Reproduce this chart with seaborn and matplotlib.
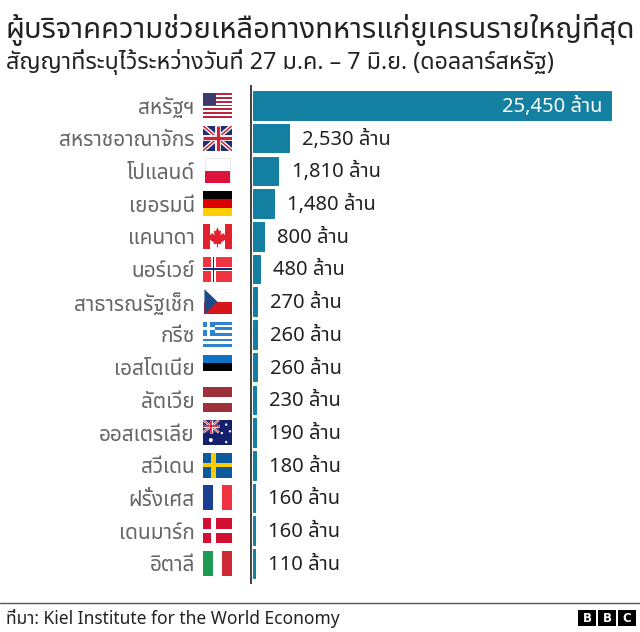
import warnings
import pandas as pd
import matplotlib
matplotlib.use("Agg")
import matplotlib.pyplot as plt
from matplotlib.patches import Rectangle, Polygon
import seaborn as sns

warnings.filterwarnings("ignore")

W, H = 640, 632
BAR_COLOR = "#1380A1"

countries = ["สหรัฐฯ", "สหราชอาณาจักร", "โปแลนด์", "เยอรมนี", "แคนาดา", "นอร์เวย์",
             "สาธารณรัฐเช็ก", "กรีซ", "เอสโตเนีย", "ลัตเวีย", "ออสเตรเลีย", "สวีเดน",
             "ฝรั่งเศส", "เดนมาร์ก", "อิตาลี"]
values = [25450, 2530, 1810, 1480, 800, 480, 270, 260, 260, 230, 190, 180, 160, 160, 110]
flags = ["us", "uk", "pl", "de", "ca", "no", "cz", "gr", "ee", "lv", "au", "se", "fr", "dk", "it"]

title = "ผู้บริจาคความช่วยเหลือทางทหารแก่ยูเครนรายใหญ่ที่สุด"
subtitle = "สัญญาที่ระบุไว้ระหว่างวันที่ 27 ม.ค. – 7 มิ.ย. (ดอลลาร์สหรัฐ)"
source = "ที่มา: Kiel Institute for the World Economy"
unit = "ล้าน"

sns.set_theme(style="white")
plt.rcParams["font.family"] = ["Noto Sans Thai", "Sarabun", "DejaVu Sans"]


def px_axes(fig, x0, y0, x1, y1):
    # axes from pixel box, y measured from the top
    return fig.add_axes([x0 / W, 1 - y1 / H, (x1 - x0) / W, (y1 - y0) / H])


def stripes(a, colors, vertical=False):
    n = len(colors)
    for i, c in enumerate(colors):
        if vertical:
            a.add_patch(Rectangle((i / n, 0), 1 / n, 1, color=c, lw=0))
        else:
            a.add_patch(Rectangle((0, 1 - (i + 1) / n), 1, 1 / n, color=c, lw=0))


def nordic(a, bg, cross, inner=None):
    a.add_patch(Rectangle((0, 0), 1, 1, color=bg, lw=0))
    a.add_patch(Rectangle((0.28, 0), 0.16, 1, color=cross, lw=0))
    a.add_patch(Rectangle((0, 0.42), 1, 0.16, color=cross, lw=0))
    if inner:
        a.add_patch(Rectangle((0.33, 0), 0.06, 1, color=inner, lw=0))
        a.add_patch(Rectangle((0, 0.47), 1, 0.06, color=inner, lw=0))


def union_jack(a, x0=0, y0=0, x1=1, y1=1, lw=1.0):
    a.add_patch(Rectangle((x0, y0), x1 - x0, y1 - y0, color="#1f2f6f", lw=0))
    for xs, ys in [((x0, x1), (y0, y1)), ((x0, x1), (y1, y0))]:
        a.plot(xs, ys, color="white", lw=3 * lw, solid_capstyle="butt")
        a.plot(xs, ys, color="#cf2436", lw=1.1 * lw, solid_capstyle="butt")
    xm, ym = (x0 + x1) / 2, (y0 + y1) / 2
    a.plot([xm, xm], [y0, y1], color="white", lw=4.2 * lw, solid_capstyle="butt")
    a.plot([x0, x1], [ym, ym], color="white", lw=4.2 * lw, solid_capstyle="butt")
    a.plot([xm, xm], [y0, y1], color="#cf2436", lw=2.3 * lw, solid_capstyle="butt")
    a.plot([x0, x1], [ym, ym], color="#cf2436", lw=2.3 * lw, solid_capstyle="butt")


def draw_flag(a, name):
    if name == "us":
        stripes(a, ["#b8263f" if i % 2 == 0 else "white" for i in range(13)])
        a.add_patch(Rectangle((0, 7 / 13 - 0.02), 0.45, 6 / 13 + 0.02, color="#3c3b6e", lw=0))
    elif name == "uk":
        union_jack(a)
    elif name == "pl":
        a.add_patch(Rectangle((0.07, 0), 0.86, 1, facecolor="white", edgecolor="#dddddd", lw=0.5))
        a.add_patch(Rectangle((0.07, 0), 0.86, 0.5, color="#dc143c", lw=0))
    elif name == "de":
        stripes(a, ["#000000", "#dd0000", "#ffce00"])
    elif name == "ca":
        stripes(a, ["#e3202e", "white", "white", "#e3202e"], vertical=True)
        leaf = [(0.5, 0.86), (0.56, 0.7), (0.63, 0.74), (0.6, 0.54), (0.7, 0.64), (0.72, 0.56),
                (0.79, 0.58), (0.75, 0.42), (0.78, 0.38), (0.62, 0.25), (0.64, 0.18), (0.52, 0.2),
                (0.52, 0.06), (0.48, 0.06), (0.48, 0.2), (0.36, 0.18), (0.38, 0.25), (0.22, 0.38),
                (0.25, 0.42), (0.21, 0.58), (0.28, 0.56), (0.3, 0.64), (0.4, 0.54), (0.37, 0.74),
                (0.44, 0.7)]
        a.add_patch(Polygon(leaf, color="#e3202e", lw=0))
    elif name == "no":
        nordic(a, "#ef3340", "white", "#12307a")
    elif name == "cz":
        a.add_patch(Rectangle((0.05, 0.5), 0.95, 0.5, facecolor="white", edgecolor="#eeeeee", lw=0.4))
        a.add_patch(Rectangle((0.05, 0), 0.95, 0.5, color="#d7141a", lw=0))
        a.add_patch(Polygon([(0.05, 0), (0.05, 1), (0.5, 0.5)], color="#1f4a8a", lw=0))
    elif name == "gr":
        stripes(a, ["#2f83cc" if i % 2 == 0 else "white" for i in range(9)])
        a.add_patch(Rectangle((0, 4 / 9), 0.4, 5 / 9, color="#2f83cc", lw=0))
        a.add_patch(Rectangle((0.15, 4 / 9), 0.1, 5 / 9, color="white", lw=0))
        a.add_patch(Rectangle((0, 6 / 9), 0.4, 1 / 9, color="white", lw=0))
    elif name == "ee":
        stripes(a, ["#0f72c4", "#000000", "white"])
    elif name == "lv":
        a.add_patch(Rectangle((0, 0.62), 1, 0.38, color="#9e3039", lw=0))
        a.add_patch(Rectangle((0, 0), 1, 0.38, color="#9e3039", lw=0))
    elif name == "au":
        a.add_patch(Rectangle((0, 0), 1, 1, color="#14206b", lw=0))
        union_jack(a, 0, 0.5, 0.55, 1, lw=0.55)
        a.scatter([0.27, 0.8, 0.65, 0.93, 0.8], [0.2, 0.12, 0.48, 0.55, 0.82],
                  color="white", s=[8, 3, 3, 3, 3], lw=0)
    elif name == "se":
        nordic(a, "#0b5a9e", "#fecb00")
    elif name == "fr":
        stripes(a, ["#1c3f94", "white", "#ef3340"], vertical=True)
    elif name == "dk":
        nordic(a, "#d21034", "white")
    elif name == "it":
        stripes(a, ["#1f9a54", "white", "#ce2b37"], vertical=True)
    a.set_xlim(0, 1)
    a.set_ylim(0, 1)
    a.axis("off")


df = pd.DataFrame({"country": countries, "value": values})

fig = plt.figure(figsize=(W / 100, H / 100), dpi=100)
ax = px_axes(fig, 253, 86.5, 611, 583)
# thin edge in the bar colour keeps the smallest bars visible
sns.barplot(data=df, y="country", x="value", orient="h", color=BAR_COLOR, saturation=1,
            width=0.875, linewidth=0.7, edgecolor=BAR_COLOR, ax=ax)
ax.set_xlim(0, values[0])
ax.set_ylim(14.6, -0.58)
ax.set_xlabel("")
ax.set_ylabel("")
ax.set_xticks([])
ax.tick_params(axis="y", length=0, pad=40.5, labelsize=15, labelcolor="#666666")
sns.despine(ax=ax, top=True, right=True, bottom=True)
ax.spines["left"].set_position(("outward", 1.4))
ax.spines["left"].set_color("#404040")
ax.spines["left"].set_linewidth(1.4)
for bar in ax.patches:
    bar.set_clip_on(False)

# value labels: first one sits inside the bar
for i, v in enumerate(values):
    label = f"{v:,} {unit}"
    if i == 0:
        ax.annotate(label, (v, i), xytext=(-6, -1), textcoords="offset points", ha="right",
                    va="center", color="white", fontsize=14.5)
    else:
        ax.annotate(label, (v, i), xytext=(9.5, -1), textcoords="offset points", ha="left",
                    va="center", color="#222222", fontsize=14.5)

# flags, one small axes per row
fig.canvas.draw()
for i, name in enumerate(flags):
    yc = H - ax.transData.transform((0, i))[1]
    fa = px_axes(fig, 203, yc - 12.5, 232, yc + 12.5)
    draw_flag(fa, name)

fig.text(6 / W, 1 - 30 / H, title, fontsize=21, color="#222222", va="center", ha="left")
fig.text(6 / W, 1 - 62 / H, subtitle, fontsize=16.8, color="#222222", va="center", ha="left")

# footer rule, source and logo
fig.add_artist(plt.Line2D([0, 1], [1 - 603 / H, 1 - 603 / H], color="#555555", lw=1))
fig.text(6 / W, 1 - 619 / H, source, fontsize=12.5, color="#222222", va="center", ha="left")
for x0, ch in zip([578, 598, 618], "BBC"):
    fig.add_artist(Rectangle((x0 / W, 1 - 626 / H), 18 / W, 16 / H, color="black", lw=0,
                             transform=fig.transFigure))
    fig.text((x0 + 9) / W, 1 - 618 / H, ch, fontsize=8.5, fontweight="bold", color="white",
             ha="center", va="center", family="DejaVu Sans")

fig.savefig("out.png", dpi=100)
